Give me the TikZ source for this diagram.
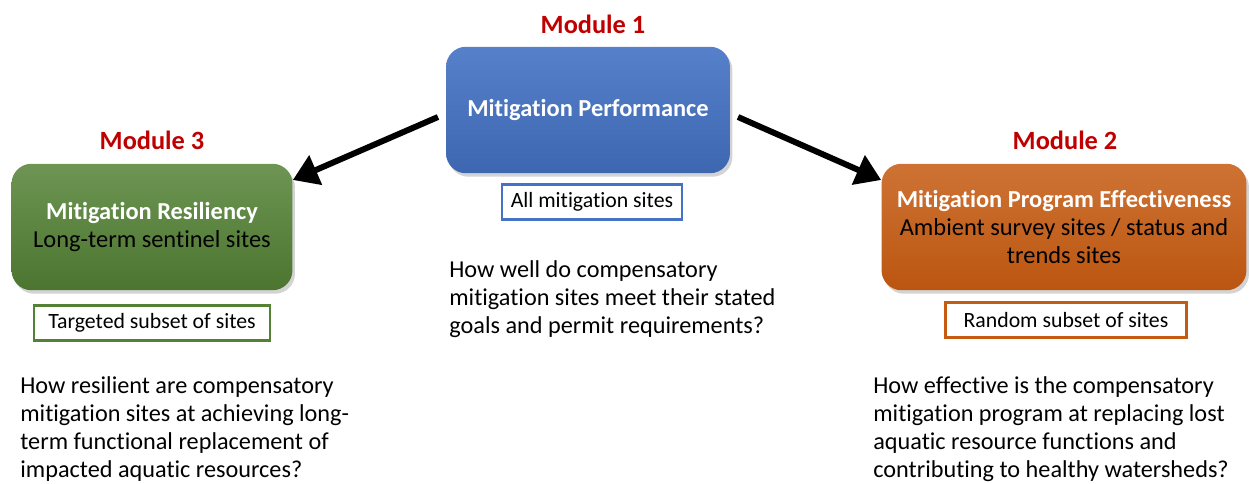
\documentclass[tikz,border=0pt]{standalone}
\usepackage{fontspec}
\setmainfont{Carlito}[Ligatures=NoCommon]
\usetikzlibrary{arrows.meta,shadows}
\definecolor{modred}{HTML}{C00000}
\definecolor{perfblue}{HTML}{4472C4}
\definecolor{resgreen}{HTML}{548235}
\definecolor{progorange}{HTML}{C55A11}
\begin{document}
\begin{tikzpicture}[x=0.02cm,y=-0.02cm,
  module/.style={text=modred, font=\fontsize{15}{18}\selectfont\bfseries},
  mbox/.style={rounded corners=0.4cm, minimum height=2.53cm, align=center,
    font=\fontsize{13.9}{16.2}\selectfont,
    drop shadow={opacity=0.35, shadow xshift=0.05cm, shadow yshift=-0.07cm}},
  sitebox/.style={draw, line width=1.6pt, fill=white, minimum height=0.7cm,
    font=\fontsize{12.4}{14}\selectfont},
  question/.style={anchor=north west, align=left, inner sep=0pt,
    font=\fontsize{13.8}{16}\selectfont},
  bigarrow/.style={line width=3.4pt, -{Triangle[length=0.5cm,width=0.62cm]}}]
\useasboundingbox (0,0) rectangle (1249,484);

% module titles
\node[module](m1) at (593,24){Module 1};
\node[module](m3) at (152,140){Module 3};
\node[module](m2) at (1065,140){Module 2};

% main boxes
\node[mbox, minimum width=5.68cm, top color=perfblue!90!white, bottom color=perfblue!90!black]
  (perf) at (588,110){\textcolor{white}{\bfseries Mitigation Performance}};
\node[mbox, minimum width=5.62cm, top color=resgreen!85!white, bottom color=resgreen!90!black]
  (resil) at (152,227){\textcolor{white}{\bfseries Mitigation Resiliency}\\Long-term sentinel sites};
\node[mbox, minimum width=7.3cm, top color=progorange!85!white, bottom color=progorange!95!black]
  (prog) at (1064,227){\textcolor{white}{\bfseries Mitigation Program Effectiveness}\\Ambient survey sites / status and\\trends sites};

% site selection
\node[sitebox, draw=perfblue, minimum width=3.6cm](all) at (592,202){All mitigation sites};
\node[sitebox, draw=resgreen, minimum width=4.72cm](targ) at (152,323){Targeted subset of sites};
\node[sitebox, draw=progorange, minimum width=4.82cm](rand) at (1066,320){Random subset of sites};

% arrows
\coordinate (a1) at (438,117);
\coordinate (a2) at (738,117);
\draw[bigarrow] (a1) -- (resil.north east |- 0,180) ;
\draw[bigarrow] (a2) -- (prog.north west |- 0,180);

% questions
\node[question](q1) at (449,260){How well do compensatory\\mitigation sites meet their stated\\goals and permit requirements?};
\node[question](q3) at (20,376){How resilient are compensatory\\mitigation sites at achieving long-\\term functional replacement of\\impacted aquatic resources?};
\node[question](q2) at (873,376){How effective is the compensatory\\mitigation program at replacing lost\\aquatic resource functions and\\contributing to healthy watersheds?};
\end{tikzpicture}
\end{document}
